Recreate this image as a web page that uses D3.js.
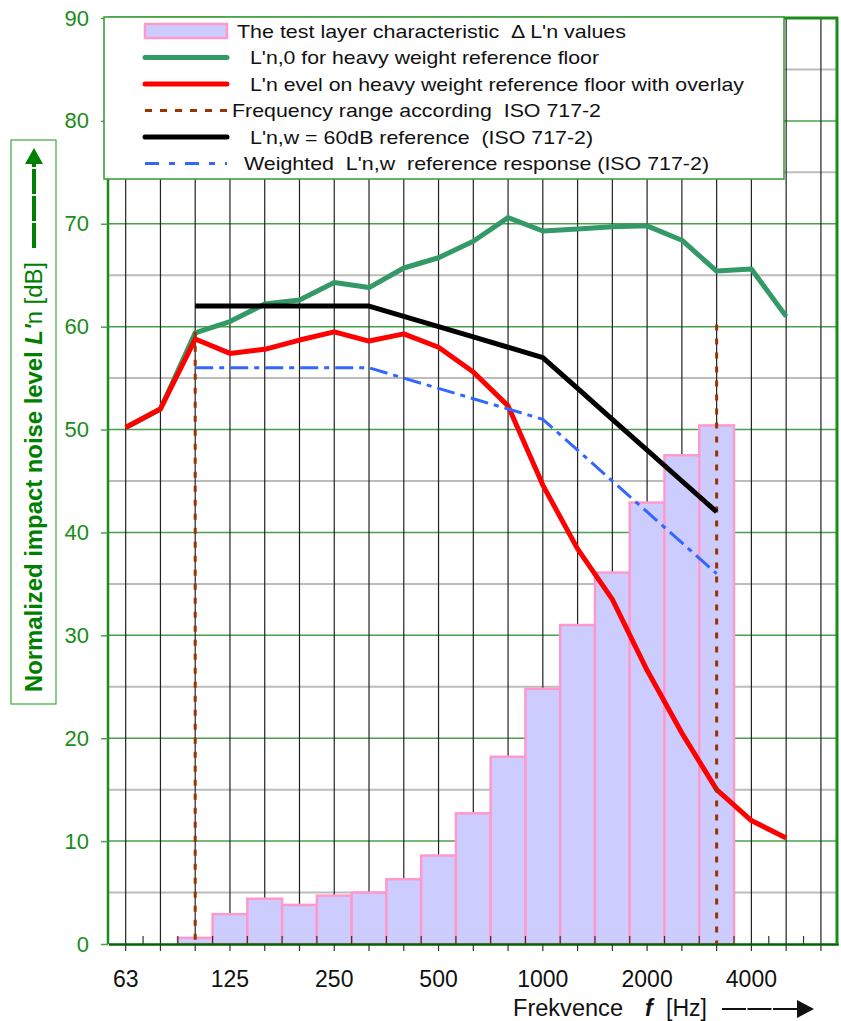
<!DOCTYPE html>
<html>
<head>
<meta charset="utf-8">
<script src="https://cdn.jsdelivr.net/npm/d3@7"></script>
<style>
  body { margin: 0; background: #fff; }
  text { font-family: "Liberation Sans", Arial, sans-serif; }
</style>
</head>
<body>
<div id="chart"></div>
<script>
// one-third octave bands shown on the x axis
var freqs = ["63", "80", "100", "125", "160", "200", "250", "315", "400", "500",
             "630", "800", "1000", "1250", "1600", "2000", "2500", "3150", "4000", "5000", "6300"];
var labelFreqs = ["63", "125", "250", "500", "1000", "2000", "4000"];
var yTicks = [0, 10, 20, 30, 40, 50, 60, 70, 80, 90];

// test layer characteristic  Delta L'n (bars)
var deltaFreqs = ["100", "125", "160", "200", "250", "315", "400", "500", "630", "800",
                  "1000", "1250", "1600", "2000", "2500", "3150"];
var deltaValues = [0.6, 2.9, 4.4, 3.8, 4.7, 5.0, 6.3, 8.6, 12.7, 18.2,
                   24.8, 31.0, 36.1, 42.9, 47.5, 50.4];

// L'n,0 and L'n with overlay
var lnFreqs = ["63", "80", "100", "125", "160", "200", "250", "315", "400", "500",
               "630", "800", "1000", "1250", "1600", "2000", "2500", "3150", "4000", "5000"];
var ln0Values = [50.2, 52.0, 59.4, 60.5, 62.2, 62.6, 64.3, 63.8, 65.7, 66.7,
                 68.3, 70.6, 69.3, 69.5, 69.7, 69.8, 68.4, 65.4, 65.6, 61.0];
var lnOverlayValues = [50.2, 52.0, 58.8, 57.4, 57.8, 58.7, 59.5, 58.6, 59.3, 58.0,
                       55.6, 52.3, 44.6, 38.4, 33.5, 26.6, 20.5, 15.0, 12.0, 10.3];

// ISO 717-2 reference curve and shifted (weighted) curve
var refFreqs = ["100", "125", "160", "200", "250", "315", "400", "500", "630", "800",
                "1000", "1250", "1600", "2000", "2500", "3150"];
var refValues = [62, 62, 62, 62, 62, 62, 61, 60, 59, 58, 57, 54, 51, 48, 45, 42];
var weightedValues = [56, 56, 56, 56, 56, 56, 55, 54, 53, 52, 51, 48, 45, 42, 39, 36];

// frequency range markers
var rangeFreqs = ["100", "3150"];
var rangeTops = [59.5, 60.2];

var legendLabels = [
  "The test layer characteristic  \u0394 L'n values",
  "L'n,0 for heavy weight reference floor",
  "L'n evel on heavy weight reference floor with overlay",
  "Frequency range according  ISO 717-2",
  "L'n,w = 60dB reference  (ISO 717-2)",
  "Weighted  L'n,w  reference response (ISO 717-2)"
];

var GREEN = "#339966", RED = "#ff0000", BROWN = "#993300", BLUE = "#3366ff",
    AXIS_GREEN = "#1a8c1a";

var svg = d3.select("#chart").append("svg")
  .attr("width", 841).attr("height", 1021)
  .style("background", "#fff");

var x = d3.scaleBand().domain(freqs).range([108.3, 838.3]).padding(0);
var cx = function(f) { return x(f) + x.bandwidth() / 2; };
var y = d3.scaleLinear().domain([0, 90]).range([944, 18]);

// grid
var grid = svg.append("g");
grid.selectAll(".hgrid")
  .data(d3.range(5, 90, 5))
  .enter().append("line")
  .attr("x1", 108).attr("x2", 837)
  .attr("y1", function(d) { return y(d); }).attr("y2", function(d) { return y(d); })
  .attr("stroke", function(d) { return d % 10 === 0 ? "#4ca04c" : "#bcbcbc"; })
  .attr("stroke-width", function(d) { return d % 10 === 0 ? 1.5 : 2; });
grid.selectAll(".vgrid")
  .data(freqs)
  .enter().append("line")
  .attr("x1", cx).attr("x2", cx)
  .attr("y1", y(90)).attr("y2", y(0))
  .attr("stroke", "#222").attr("stroke-width", 1.2);

// bars
svg.append("g").selectAll("rect")
  .data(deltaFreqs)
  .enter().append("rect")
  .attr("x", function(f) { return x(f); })
  .attr("width", x.bandwidth())
  .attr("y", function(f, i) { return y(deltaValues[i]); })
  .attr("height", function(f, i) { return y(0) - y(deltaValues[i]); })
  .attr("fill", "#ccccff")
  .attr("stroke", "#ff99cc")
  .attr("stroke-width", 2.5);

// small ticks at band boundaries
svg.append("g").selectAll("line")
  .data(freqs.slice(1))
  .enter().append("line")
  .attr("x1", function(f) { return x(f); }).attr("x2", function(f) { return x(f); })
  .attr("y1", y(0)).attr("y2", y(0) - 8)
  .attr("stroke", "#333").attr("stroke-width", 1.2);

// bottom axis
var xAxis = svg.append("g")
  .attr("transform", "translate(0," + y(0) + ")")
  .call(d3.axisBottom(x).tickSize(7).tickSizeOuter(0).tickPadding(20)
    .tickFormat(function(f) { return labelFreqs.indexOf(f) >= 0 ? f : ""; }));
xAxis.select(".domain").attr("stroke", "#006400").attr("stroke-width", 2.5);
xAxis.selectAll(".tick line").attr("stroke", "#333").attr("stroke-width", 1.2);
xAxis.selectAll(".tick text")
  .attr("font-family", "Liberation Sans, Arial, sans-serif")
  .attr("font-size", 23).attr("fill", "#111");

// line series
var line = d3.line().x(function(d) { return cx(d[0]); }).y(function(d) { return y(d[1]); });

svg.append("path")
  .datum(d3.zip(lnFreqs, ln0Values))
  .attr("d", line).attr("fill", "none")
  .attr("stroke", GREEN).attr("stroke-width", 5).attr("stroke-linejoin", "round");

svg.append("path")
  .datum(d3.zip(lnFreqs, lnOverlayValues))
  .attr("d", line).attr("fill", "none")
  .attr("stroke", RED).attr("stroke-width", 5).attr("stroke-linejoin", "round");

svg.append("g").selectAll("line")
  .data(rangeFreqs)
  .enter().append("line")
  .attr("x1", cx).attr("x2", cx)
  .attr("y1", function(f, i) { return y(rangeTops[i]); })
  .attr("y2", y(0))
  .attr("stroke", BROWN).attr("stroke-width", 3)
  .attr("stroke-dasharray", "6,8");

svg.append("path")
  .datum(d3.zip(refFreqs, refValues))
  .attr("d", line).attr("fill", "none")
  .attr("stroke", "#000").attr("stroke-width", 5).attr("stroke-linejoin", "round");

svg.append("path")
  .datum(d3.zip(refFreqs, weightedValues))
  .attr("d", line).attr("fill", "none")
  .attr("stroke", BLUE).attr("stroke-width", 3)
  .attr("stroke-dasharray", "18,6,5,6");

// frame
svg.append("line").attr("x1", 108).attr("x2", 108).attr("y1", y(90)).attr("y2", y(0))
  .attr("stroke", AXIS_GREEN).attr("stroke-width", 2.5);
svg.append("line").attr("x1", 837).attr("x2", 837).attr("y1", y(90) - 1).attr("y2", y(0))
  .attr("stroke", AXIS_GREEN).attr("stroke-width", 3);
svg.append("line").attr("x1", 108).attr("x2", 838).attr("y1", y(90)).attr("y2", y(90))
  .attr("stroke", AXIS_GREEN).attr("stroke-width", 3);

// left axis
var yAxis = svg.append("g")
  .attr("transform", "translate(108,0)")
  .call(d3.axisLeft(y).tickValues(yTicks).tickSize(7).tickPadding(12));
yAxis.select(".domain").remove();
yAxis.selectAll(".tick line").attr("stroke", "#4ca04c").attr("stroke-width", 1.5);
yAxis.selectAll(".tick text")
  .attr("font-family", "Liberation Sans, Arial, sans-serif")
  .attr("font-size", 22).attr("fill", AXIS_GREEN);

// legend
var LEG = { x: 104, y: 17, w: 680, h: 162, sx1: 145, sx2: 227, row0: 31, rowH: 26.5 };
var legendText = [
  { x: 237, len: 389 }, { x: 250, len: 349 }, { x: 250, len: 494 },
  { x: 232, len: 369 }, { x: 250, len: 343 }, { x: 244, len: 465 }
];
var legend = svg.append("g");
legend.append("rect")
  .attr("x", LEG.x).attr("y", LEG.y).attr("width", LEG.w).attr("height", LEG.h)
  .attr("fill", "#fff").attr("stroke", "#339933").attr("stroke-width", 1.5);

var rowY = function(i) { return LEG.row0 + i * LEG.rowH; };
legend.append("rect")
  .attr("x", LEG.sx1).attr("y", rowY(0) - 7).attr("width", LEG.sx2 - LEG.sx1).attr("height", 14)
  .attr("fill", "#ccccff").attr("stroke", "#ff99cc").attr("stroke-width", 2.5);
var legendLines = [
  { color: GREEN, w: 5, dash: null },
  { color: RED, w: 5, dash: null },
  { color: BROWN, w: 3, dash: "7,8" },
  { color: "#000", w: 5, dash: null },
  { color: BLUE, w: 3, dash: "14,10,6,10" }
];
legendLines.forEach(function(s, k) {
  legend.append("line")
    .attr("x1", LEG.sx1).attr("x2", LEG.sx2)
    .attr("y1", rowY(k + 1)).attr("y2", rowY(k + 1))
    .attr("stroke", s.color).attr("stroke-width", s.w)
    .attr("stroke-linecap", s.dash ? "butt" : "round")
    .attr("stroke-dasharray", s.dash);
});
legend.selectAll("text")
  .data(legendLabels)
  .enter().append("text")
  .attr("x", function(d, i) { return legendText[i].x; })
  .attr("y", function(d, i) { return rowY(i) + 6.5; })
  .attr("font-size", 19).attr("fill", "#111")
  .attr("textLength", function(d, i) { return legendText[i].len; })
  .attr("lengthAdjust", "spacingAndGlyphs")
  .style("white-space", "pre")
  .text(function(d) { return d; });

// y axis title
svg.append("rect")
  .attr("x", 11).attr("y", 140).attr("width", 45).attr("height", 564)
  .attr("fill", "none").attr("stroke", "#4caf4c").attr("stroke-width", 1.3);
var yTitle = svg.append("text")
  .attr("transform", "translate(42,692) rotate(-90)")
  .attr("fill", "#008000").attr("font-size", 23)
  .attr("textLength", 430).attr("lengthAdjust", "spacingAndGlyphs")
  .style("white-space", "pre");
yTitle.append("tspan").attr("font-weight", "bold").text("Normalized impact noise level ");
yTitle.append("tspan").attr("font-weight", "bold").attr("font-style", "italic").text("L'");
yTitle.append("tspan").text("n [dB]");
svg.append("line")
  .attr("x1", 34).attr("x2", 34).attr("y1", 248).attr("y2", 164)
  .attr("stroke", "#008000").attr("stroke-width", 4).attr("stroke-dasharray", "25,2");
svg.append("path").attr("d", "M25,164L43,164L34,148Z").attr("fill", "#008000");

// x axis title
var xt = svg.append("g").attr("fill", "#111").attr("font-size", 23);
xt.append("text").attr("x", 513).attr("y", 1016).attr("textLength", 110)
  .attr("lengthAdjust", "spacingAndGlyphs").text("Frekvence");
xt.append("text").attr("x", 645).attr("y", 1016).attr("font-weight", "bold")
  .attr("font-style", "italic").text("f");
xt.append("text").attr("x", 666).attr("y", 1016).attr("textLength", 41)
  .attr("lengthAdjust", "spacingAndGlyphs").text("[Hz]");
svg.append("line").attr("x1", 722).attr("x2", 798).attr("y1", 1009).attr("y2", 1009)
  .attr("stroke", "#111").attr("stroke-width", 2).attr("stroke-dasharray", "24,1.5");
svg.append("path").attr("d", "M797,1000L814,1009L797,1018Z").attr("fill", "#111");
</script>
</body>
</html>
